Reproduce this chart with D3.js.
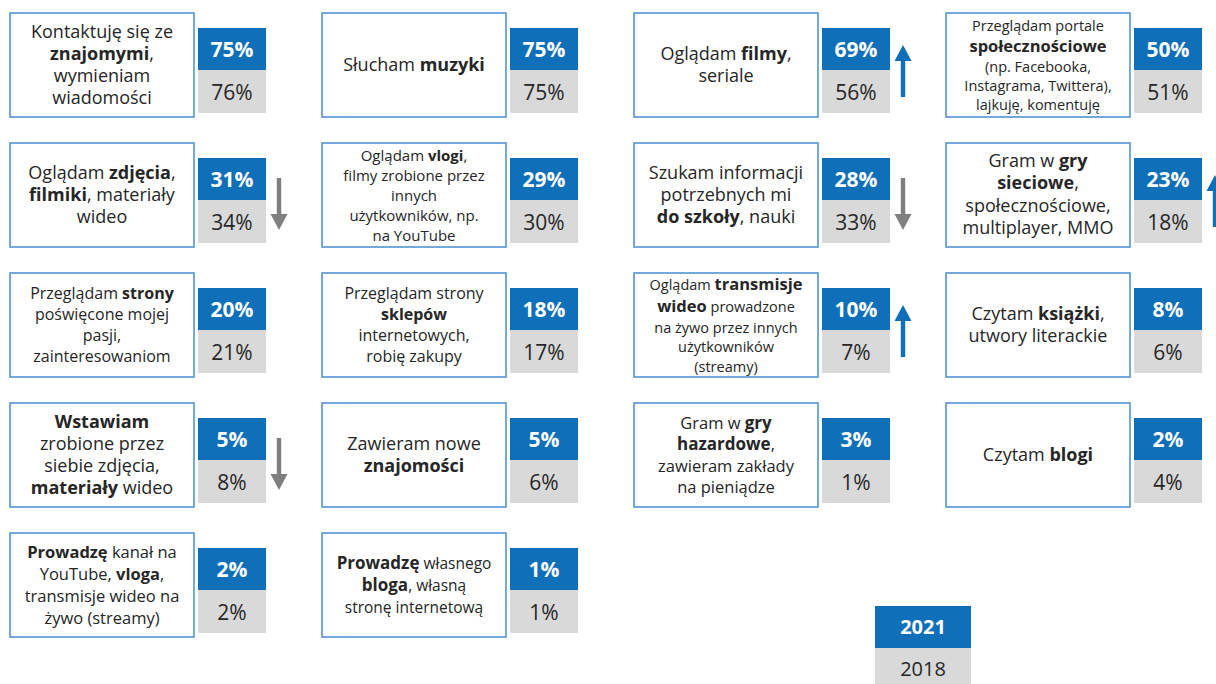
<!DOCTYPE html>
<html>
<head>
<meta charset="utf-8">
<script src="https://cdn.jsdelivr.net/npm/d3@7"></script>
<style>
  body { margin: 0; background: #fff; }
  svg text { white-space: pre; }
</style>
</head>
<body>
<svg width="1216" height="684"></svg>
<script>
// activity labels, "|" = new line, **...** = bold
const categories = [
    "Kontaktuję się ze|**znajomymi**,|wymieniam|wiadomości",
    "Słucham **muzyki**",
    "Oglądam **filmy**,|seriale",
    "Przeglądam portale|**społecznościowe**|(np. Facebooka,|Instagrama, Twittera),|lajkuję, komentuję",
    "Oglądam **zdjęcia**,|**filmiki**, materiały|wideo",
    "Oglądam **vlogi**,|filmy zrobione przez|innych|użytkowników, np.|na YouTube",
    "Szukam informacji|potrzebnych mi|**do szkoły**, nauki",
    "Gram w **gry**|**sieciowe**,|społecznościowe,|multiplayer, MMO",
    "Przeglądam **strony**|poświęcone mojej|pasji,|zainteresowaniom",
    "Przeglądam strony|**sklepów**|internetowych,|robię zakupy",
    "Oglądam **transmisje**|**wideo** prowadzone|na żywo przez innych|użytkowników|(streamy)",
    "Czytam **książki**,|utwory literackie",
    "**Wstawiam**|zrobione przez|siebie zdjęcia,|**materiały** wideo",
    "Zawieram nowe|**znajomości**",
    "Gram w **gry**|**hazardowe**,|zawieram zakłady|na pieniądze",
    "Czytam **blogi**",
    "**Prowadzę** kanał na|YouTube, **vloga**,|transmisje wideo na|żywo (streamy)",
    "**Prowadzę** własnego|**bloga**, własną|stronę internetową"
];

// percentages
const values2021 = [75, 75, 69, 50, 31, 29, 28, 23, 20, 18, 10, 8, 5, 5, 3, 2, 2, 1];
const values2018 = [76, 75, 56, 51, 34, 30, 33, 18, 21, 17, 7, 6, 8, 6, 1, 4, 2, 1];

// change arrows
const trend = ["", "", "up", "", "down", "", "down", "up", "", "", "up", "", "down", "", "", "", "", ""];

// legend
const years = ["2021", "2018"];

// text styles per box
const fontSize = [18, 18, 18, 14.5, 18, 15, 18, 18, 16, 16, 14.5, 18, 18, 18, 16.5, 18, 16.5, 15.5];
const boldSize = [18, 18, 18, 16.5, 18, 15, 18, 18, 16, 16, 16.5, 18, 18, 18, 17, 18, 16.5, 17];
const lineHeight = [22, 22, 22, 19, 22, 20, 22, 22.5, 21, 21, 19.5, 22, 22, 22, 21, 22, 22, 20.5];

const svg = d3.select("svg");

const blue = "#0f6fb8";
const grey = "#d9d9d9";
const textColor = "#262626";
const font = "'Open Sans', Lato, sans-serif";

const cols = 4;
const boxW = 184, boxH = 104, valW = 68, gap = 4;

// grid scales
const xScale = d3.scaleLinear().domain([0, cols - 1]).range([10, 946]);
const yScale = d3.scaleLinear().domain([0, 4]).range([13, 533]);

const data = categories.map(function(c, i) {
    return {
        label: c,
        v21: values2021[i],
        v18: values2018[i],
        trend: trend[i],
        col: i % cols,
        row: Math.floor(i / cols),
        fs: fontSize[i],
        bs: boldSize[i],
        lh: lineHeight[i]
    };
});

const cell = svg.selectAll("g.cell")
    .data(data)
    .enter()
    .append("g")
    .attr("class", "cell")
    .attr("transform", function(d) {
        return "translate(" + xScale(d.col) + "," + yScale(d.row) + ")";
    });

// label box
cell.append("rect")
    .attr("x", 0)
    .attr("y", 0)
    .attr("width", boxW)
    .attr("height", boxH)
    .attr("fill", "#fff")
    .attr("stroke", "#5295d0")
    .attr("stroke-width", 1.6);

// label text (lines with a bigger bold word get a bit more room)
cell.each(function(d) {
    const g = d3.select(this);
    const lines = d.label.split("|").map(function(line) {
        const segs = line.split("**");
        let size = d.fs;
        segs.forEach(function(s, si) {
            if (si % 2 && s !== "") size = Math.max(size, d.bs);
        });
        return { segs: segs, h: d.lh * size / d.fs };
    });
    let span = 0;
    for (let k = 1; k < lines.length; k++) span += (lines[k - 1].h + lines[k].h) / 2;
    let cy = boxH / 2 - span / 2;
    lines.forEach(function(line, li) {
        if (li > 0) cy += (lines[li - 1].h + line.h) / 2;
        const t = g.append("text")
            .attr("x", boxW / 2)
            .attr("y", cy)
            .attr("dy", "0.35em")
            .attr("text-anchor", "middle")
            .attr("font-family", font)
            .attr("fill", textColor);
        line.segs.forEach(function(seg, si) {
            if (seg === "") return;
            t.append("tspan")
                .attr("font-weight", si % 2 ? 700 : 400)
                .attr("font-size", si % 2 ? d.bs : d.fs)
                .text(seg);
        });
    });
});

// value boxes
const vx = boxW + gap;

cell.append("rect")
    .attr("x", vx)
    .attr("y", 15)
    .attr("width", valW)
    .attr("height", 42)
    .attr("fill", blue);

cell.append("rect")
    .attr("x", vx)
    .attr("y", 57)
    .attr("width", valW)
    .attr("height", 43)
    .attr("fill", grey);

cell.append("text")
    .attr("x", vx + valW / 2)
    .attr("y", 36)
    .attr("dy", "0.36em")
    .attr("text-anchor", "middle")
    .attr("font-family", font)
    .attr("font-weight", 700)
    .attr("font-size", 21)
    .attr("fill", "#fff")
    .text(function(d) { return d.v21 + "%"; });

cell.append("text")
    .attr("x", vx + valW / 2)
    .attr("y", 79)
    .attr("dy", "0.36em")
    .attr("text-anchor", "middle")
    .attr("font-family", font)
    .attr("font-size", 21)
    .attr("fill", textColor)
    .text(function(d) { return d.v18 + "%"; });

// arrows
const ax = vx + valW + 13;
cell.filter(function(d) { return d.trend === "up"; })
    .append("path")
    .attr("fill", blue)
    .attr("d", "M" + ax + ",32 L" + (ax + 8.5) + ",48 L" + (ax + 2.2) + ",48 L" + (ax + 2.2) + ",84 L" +
        (ax - 2.2) + ",84 L" + (ax - 2.2) + ",48 L" + (ax - 8.5) + ",48 Z");

cell.filter(function(d) { return d.trend === "down"; })
    .append("path")
    .attr("fill", "#7f7f7f")
    .attr("d", "M" + ax + ",87 L" + (ax + 8.5) + ",71 L" + (ax + 2.2) + ",71 L" + (ax + 2.2) + ",35 L" +
        (ax - 2.2) + ",35 L" + (ax - 2.2) + ",71 L" + (ax - 8.5) + ",71 Z");

// legend
const legend = svg.append("g").attr("transform", "translate(875,606)");

legend.selectAll("rect")
    .data(years)
    .enter()
    .append("rect")
    .attr("x", 0)
    .attr("y", function(d, i) { return i * 42; })
    .attr("width", 96)
    .attr("height", 42)
    .attr("fill", function(d, i) { return i === 0 ? blue : grey; });

legend.selectAll("text")
    .data(years)
    .enter()
    .append("text")
    .attr("x", 48)
    .attr("y", function(d, i) { return i * 42 + 21; })
    .attr("dy", "0.36em")
    .attr("text-anchor", "middle")
    .attr("font-family", font)
    .attr("font-size", 20)
    .attr("font-weight", function(d, i) { return i === 0 ? 700 : 400; })
    .attr("fill", function(d, i) { return i === 0 ? "#fff" : textColor; })
    .text(function(d) { return d; });
</script>
</body>
</html>
